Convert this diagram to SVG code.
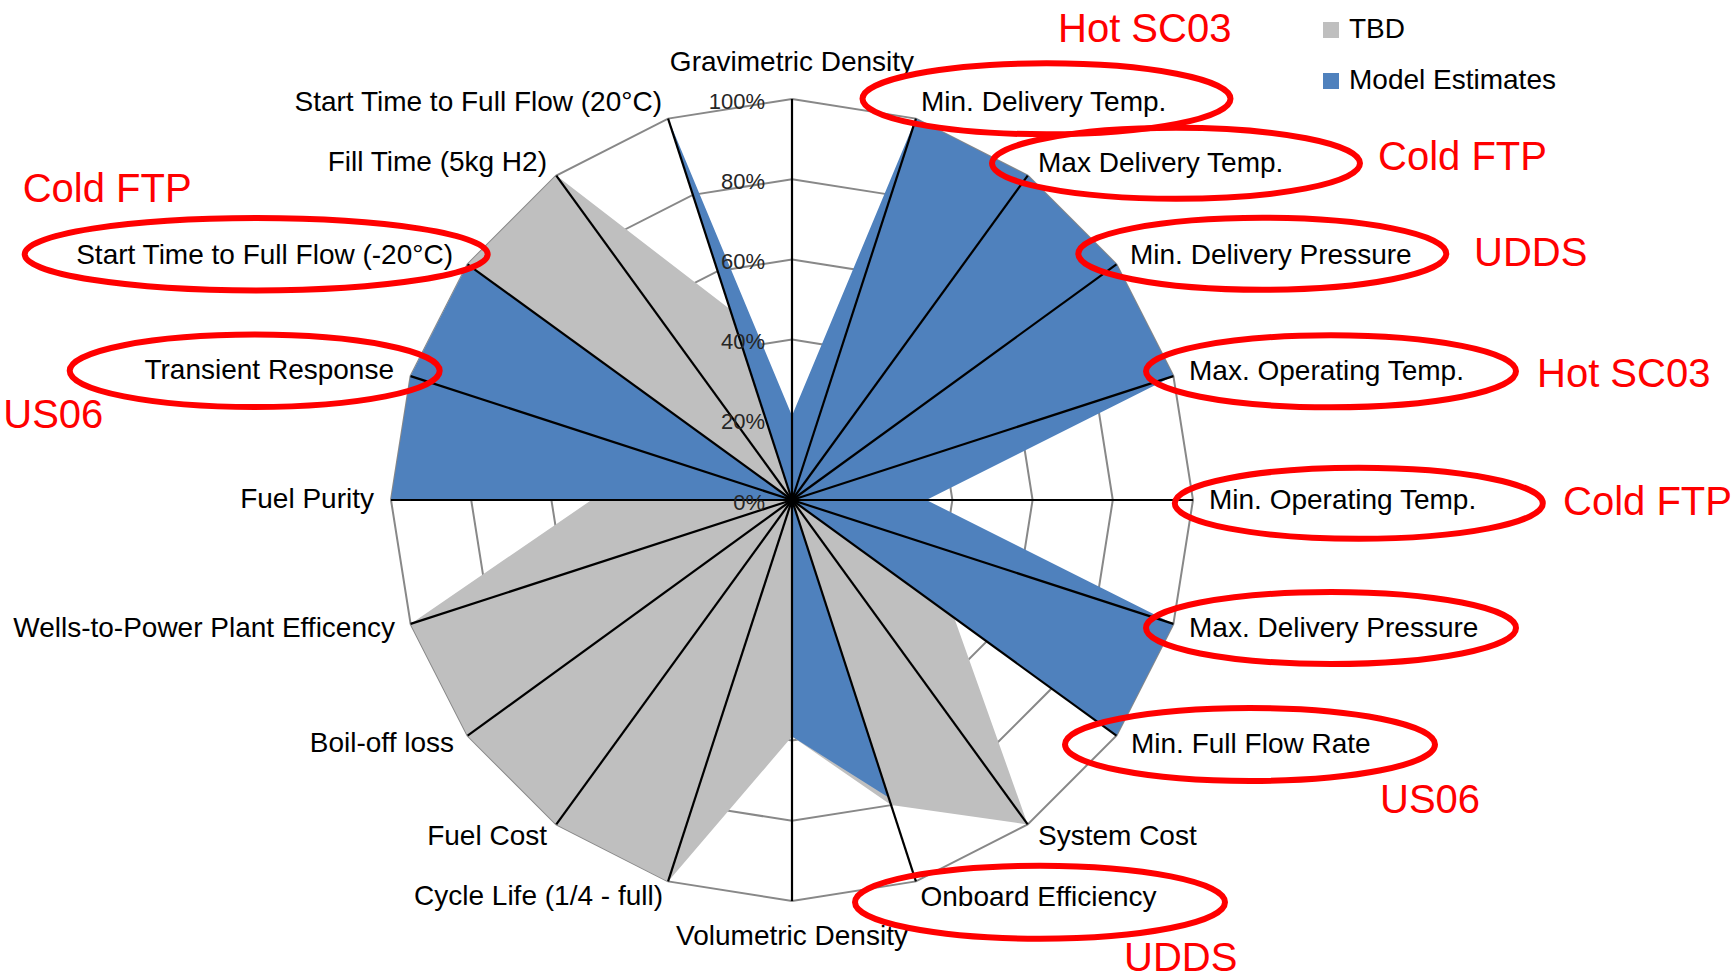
<svg xmlns="http://www.w3.org/2000/svg" xmlns:xlink="http://www.w3.org/1999/xlink" width="1733" height="979" viewBox="0 0 1733 979">
<style>
.grid{fill:none;stroke:#888888;stroke-width:2}
.axis{stroke:#000;stroke-width:2.2;vector-effect:non-scaling-stroke}
.cat{font-family:"Liberation Sans",Arial,sans-serif;font-size:28px;fill:#000}
.tick{font-family:"Liberation Sans",Arial,sans-serif;font-size:22px;fill:#262626;text-anchor:end}
.red{font-family:"Liberation Sans",Arial,sans-serif;font-size:40px;fill:#FF0000}
.ring{fill:none;stroke:#FF0000;stroke-width:6}
.s{text-anchor:start}.e{text-anchor:end}.m{text-anchor:middle}
</style>
<defs>
<polygon id="ringShape" vector-effect="non-scaling-stroke" points="0,-100 30.90,-95.11 58.78,-80.90 80.90,-58.78 95.11,-30.90 100,0 95.11,30.90 80.90,58.78 58.78,80.90 30.90,95.11 0,100 -30.90,95.11 -58.78,80.90 -80.90,58.78 -95.11,30.90 -100,0 -95.11,-30.90 -80.90,-58.78 -58.78,-80.90 -30.90,-95.11"/>
</defs>
<rect width="1733" height="979" fill="#fff"/>
<g id="chart" transform="translate(792 500) scale(4.01)">
  <g id="gridlines" class="grid">
    <use xlink:href="#ringShape" transform="scale(0.2)"/>
    <use xlink:href="#ringShape" transform="scale(0.4)"/>
    <use xlink:href="#ringShape" transform="scale(0.6)"/>
    <use xlink:href="#ringShape" transform="scale(0.8)"/>
    <use xlink:href="#ringShape"/>
  </g>
  <polygon id="series-tbd" fill="#BFBFBF" points="0,0 40.45,29.39 58.78,80.90 24.72,76.08 0,59 -30.90,95.11 -58.78,80.90 -80.90,58.78 -95.11,30.90 -50,0 -95.11,-30.90 -80.90,-58.78 -58.78,-80.90 -15.45,-47.55"/>
  <polygon id="series-model" fill="#4F81BD" points="0,-21 30.90,-95.11 58.78,-80.90 80.90,-58.78 95.11,-30.90 33.5,0 95.11,30.90 80.90,58.78 0,0 24.10,74.18 0,59 0,0 -100,0 -95.11,-30.90 -80.90,-58.78 0,0 -30.90,-95.11"/>
  <g id="axes">
    <line class="axis" x1="0" y1="0" x2="0" y2="-100"/>
    <line class="axis" x1="0" y1="0" x2="30.90" y2="-95.11"/>
    <line class="axis" x1="0" y1="0" x2="58.78" y2="-80.90"/>
    <line class="axis" x1="0" y1="0" x2="80.90" y2="-58.78"/>
    <line class="axis" x1="0" y1="0" x2="95.11" y2="-30.90"/>
    <line class="axis" x1="0" y1="0" x2="100" y2="0"/>
    <line class="axis" x1="0" y1="0" x2="95.11" y2="30.90"/>
    <line class="axis" x1="0" y1="0" x2="80.90" y2="58.78"/>
    <line class="axis" x1="0" y1="0" x2="58.78" y2="80.90"/>
    <line class="axis" x1="0" y1="0" x2="30.90" y2="95.11"/>
    <line class="axis" x1="0" y1="0" x2="0" y2="100"/>
    <line class="axis" x1="0" y1="0" x2="-30.90" y2="95.11"/>
    <line class="axis" x1="0" y1="0" x2="-58.78" y2="80.90"/>
    <line class="axis" x1="0" y1="0" x2="-80.90" y2="58.78"/>
    <line class="axis" x1="0" y1="0" x2="-95.11" y2="30.90"/>
    <line class="axis" x1="0" y1="0" x2="-100" y2="0"/>
    <line class="axis" x1="0" y1="0" x2="-95.11" y2="-30.90"/>
    <line class="axis" x1="0" y1="0" x2="-80.90" y2="-58.78"/>
    <line class="axis" x1="0" y1="0" x2="-58.78" y2="-80.90"/>
    <line class="axis" x1="0" y1="0" x2="-30.90" y2="-95.11"/>
  </g>
</g>
<g id="ticks">
  <text class="tick" x="765" y="108.5">100%</text>
  <text class="tick" x="765" y="188.7">80%</text>
  <text class="tick" x="765" y="268.9">60%</text>
  <text class="tick" x="765" y="349.1">40%</text>
  <text class="tick" x="765" y="429.3">20%</text>
  <text class="tick" x="765" y="509.5">0%</text>
</g>
<g id="categories">
  <text class="cat m" x="792" y="71">Gravimetric Density</text>
  <text class="cat s" x="921" y="111">Min. Delivery Temp.</text>
  <text class="cat s" x="1038" y="172">Max Delivery Temp.</text>
  <text class="cat s" x="1130" y="263.5">Min. Delivery Pressure</text>
  <text class="cat s" x="1189" y="380">Max. Operating Temp.</text>
  <text class="cat s" x="1209" y="508.5">Min. Operating Temp.</text>
  <text class="cat s" x="1189" y="637">Max. Delivery Pressure</text>
  <text class="cat s" x="1131" y="753">Min. Full Flow Rate</text>
  <text class="cat s" x="1038" y="845">System Cost</text>
  <text class="cat s" x="920.5" y="905.5">Onboard Efficiency</text>
  <text class="cat m" x="792" y="945">Volumetric Density</text>
  <text class="cat e" x="663" y="905">Cycle Life (1/4 - full)</text>
  <text class="cat e" x="547" y="845">Fuel Cost</text>
  <text class="cat e" x="454" y="752">Boil-off loss</text>
  <text class="cat e" x="395" y="637">Wells-to-Power Plant Efficency</text>
  <text class="cat e" x="374" y="507.5">Fuel Purity</text>
  <text class="cat e" x="394" y="379">Transient Response</text>
  <text class="cat e" x="453" y="264">Start Time to Full Flow (-20°C)</text>
  <text class="cat e" x="547" y="171">Fill Time (5kg H2)</text>
  <text class="cat e" x="662" y="111">Start Time to Full Flow (20°C)</text>
</g>
<g id="legend">
  <rect x="1323" y="22" width="16" height="16" fill="#BFBFBF"/>
  <text class="cat s" x="1349" y="38">TBD</text>
  <rect x="1323" y="73" width="16" height="16" fill="#4F81BD"/>
  <text class="cat s" x="1349" y="89">Model Estimates</text>
</g>
<g id="highlights">
  <ellipse class="ring" cx="1046.5" cy="98.8" rx="184" ry="35.5"/>
  <ellipse class="ring" cx="1176" cy="163.3" rx="184" ry="35.5"/>
  <ellipse class="ring" cx="1262.3" cy="253.8" rx="184" ry="36"/>
  <ellipse class="ring" cx="1331" cy="371.3" rx="185" ry="36"/>
  <ellipse class="ring" cx="1358.8" cy="503.3" rx="184" ry="35.5"/>
  <ellipse class="ring" cx="1331" cy="628" rx="185" ry="36"/>
  <ellipse class="ring" cx="1250" cy="744.5" rx="185" ry="36.5"/>
  <ellipse class="ring" cx="1040" cy="902.2" rx="185" ry="36.5"/>
  <ellipse class="ring" cx="256.2" cy="254.2" rx="231.5" ry="36.2"/>
  <ellipse class="ring" cx="254.7" cy="370.8" rx="185" ry="36.2"/>
</g>
<g id="cycle-labels">
  <text class="red s" x="1058" y="41.7">Hot SC03</text>
  <text class="red s" x="1378" y="170">Cold FTP</text>
  <text class="red s" x="1474" y="266">UDDS</text>
  <text class="red s" x="1537" y="386.7">Hot SC03</text>
  <text class="red s" x="1563" y="515">Cold FTP</text>
  <text class="red s" x="1380" y="813">US06</text>
  <text class="red s" x="1124" y="971">UDDS</text>
  <text class="red s" x="22.7" y="201.7">Cold FTP</text>
  <text class="red s" x="3.3" y="428.3">US06</text>
</g>
</svg>
